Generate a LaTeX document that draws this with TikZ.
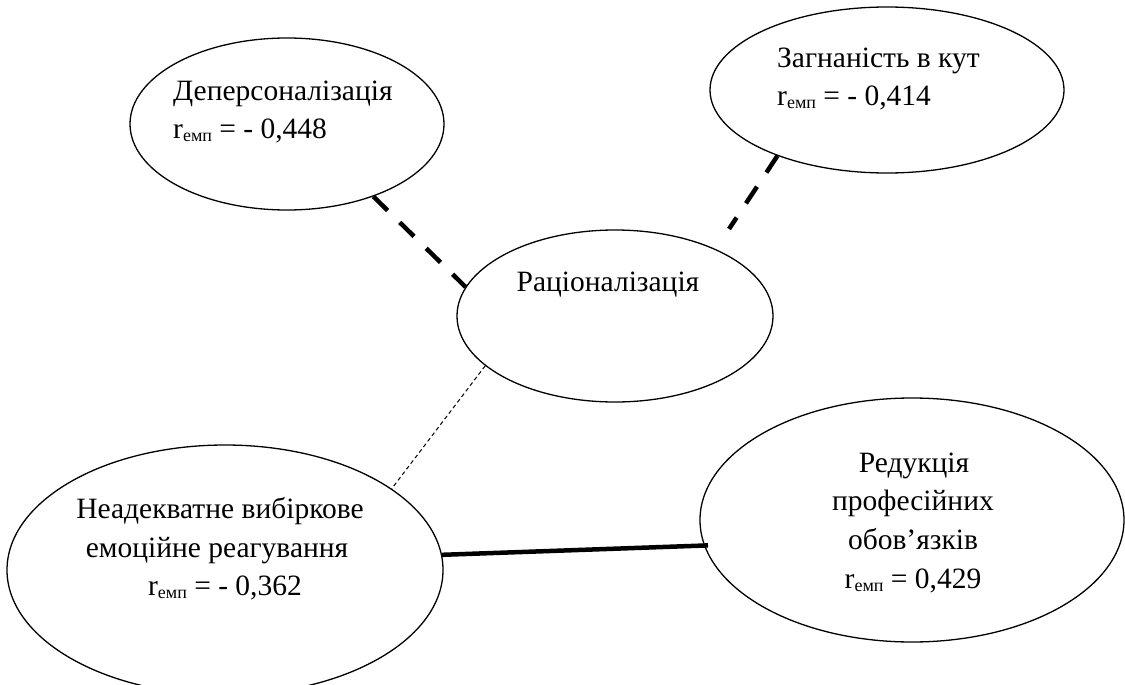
\documentclass[tikz,border=0pt]{standalone}
\usepackage{fontspec}
\setmainfont{Liberation Serif}
\usetikzlibrary{shapes.geometric}
\newcommand{\remp}{r\raisebox{-3pt}{\fontsize{18}{18}\selectfont емп}}
\begin{document}
\begin{tikzpicture}[x=1pt,y=-1pt,
  oval/.style={draw, ellipse, line width=1.3pt, inner sep=0pt},
  txt/.style={font=\fontsize{29.5}{38}\selectfont, inner sep=0pt},
  thickdash/.style={line width=4.5pt, dash pattern=on 20pt off 17pt},
  thindash/.style={line width=1pt, dash pattern=on 4pt off 3pt},
  solidlink/.style={line width=4.5pt}]
\useasboundingbox (0,0) rectangle (1125,685);
\node[oval, minimum width=314pt, minimum height=172pt] (dep) at (287,124) {};
\node[oval, minimum width=354pt, minimum height=166pt] (zag) at (887,90) {};
\node[oval, minimum width=316pt, minimum height=172pt] (rat) at (615,316) {};
\node[oval, minimum width=436pt, minimum height=250pt] (nea) at (225,570) {};
\node[oval, minimum width=424pt, minimum height=244pt] (red) at (912,520) {};

\node[txt, anchor=base west] (depA) at (173,100) {Деперсоналізація};
\node[txt, anchor=base west] (depB) at (173,138) {\remp{} = - 0,448};
\node[txt, anchor=base west] (zagA) at (777,67) {Загнаність в кут};
\node[txt, anchor=base west] (zagB) at (777,105) {\remp{} = - 0,414};
\node[txt, anchor=base] (ratA) at (608,291) {Раціоналізація};
\node[txt, anchor=base] (neaA) at (220,518) {Неадекватне вибіркове};
\node[txt, anchor=base] (neaB) at (217,557) {емоційне реагування};
\node[txt, anchor=base] (neaC) at (225,595) {\remp{} = - 0,362};
\node[txt, anchor=base] (redA) at (914,472) {Редукція};
\node[txt, anchor=base] (redB) at (913,510) {професійних};
\node[txt, anchor=base] (redC) at (913,549) {обов’язків};
\node[txt, anchor=base] (redD) at (913,588) {\remp{} = 0,429};

\coordinate (zagend) at (729,229);
\draw[thickdash] (dep.-40) -- (rat.169);
\draw[thickdash] (zag.211) -- (zagend);
\draw[thindash] (rat.201.7) -- (nea.26.4);
\draw[solidlink, shorten >=-4pt] (nea.4.8) -- (red.187.9);
\end{tikzpicture}
\end{document}
